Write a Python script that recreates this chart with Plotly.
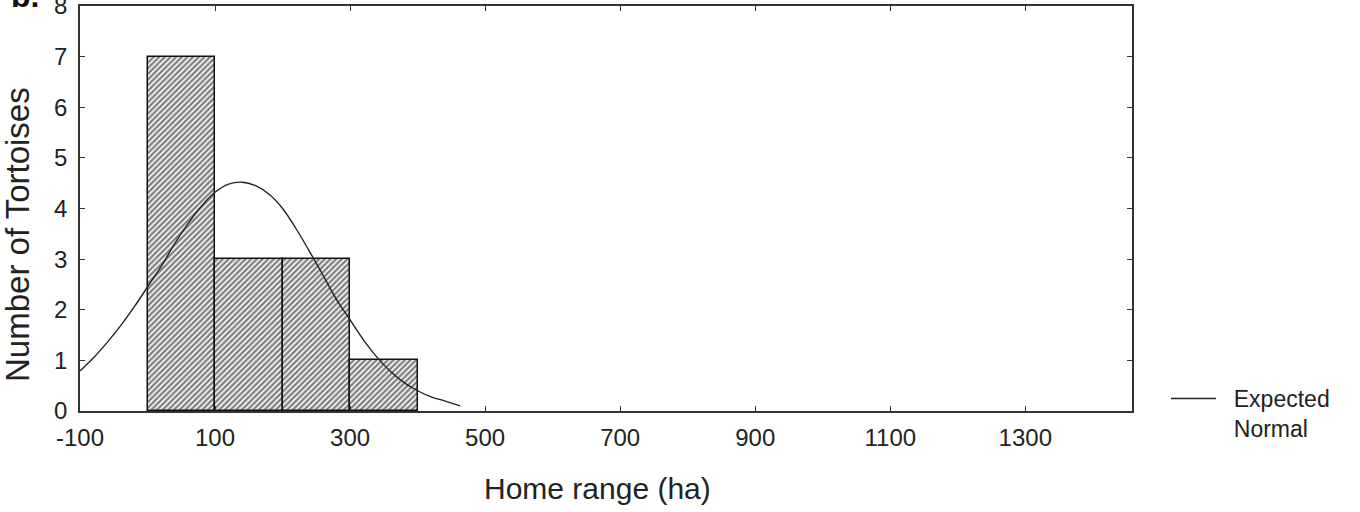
import plotly.graph_objects as go

# Histogram data (Home range, ha)
bin_centers = [50, 150, 250, 350]
bin_width = [100, 100, 100, 100]
counts = [7, 3, 3, 1]

# Expected normal curve
curve_x = [-100, -80, -60, -40, -20, 0, 20, 40, 60, 80, 100, 120, 140, 160, 180,
           200, 220, 240, 260, 280, 300, 320, 340, 360, 380, 400, 420, 440, 463]
curve_y = [0.79, 1.05, 1.35, 1.68, 2.05, 2.45, 2.85, 3.30, 3.70, 4.05, 4.32, 4.48,
           4.52, 4.45, 4.28, 4.00, 3.60, 3.15, 2.68, 2.20, 1.80, 1.40, 1.06, 0.78,
           0.56, 0.40, 0.28, 0.20, 0.10]

x_ticks = [-100, 100, 300, 500, 700, 900, 1100, 1300]
x_tick_text = ["-100", "100", "300", "500", "700", "900", "1100", "1300"]
y_ticks = [0, 1, 2, 3, 4, 5, 6, 7, 8]

FONT = "Liberation Sans, Arial, sans-serif"
NB = "\u00a0\u00a0"

fig = go.Figure()
fig.add_trace(go.Bar(
    x=bin_centers, y=counts, width=bin_width,
    marker=dict(color="white",
                line=dict(color="#111111", width=1.5),
                pattern=dict(shape="/", fgcolor="#000000", bgcolor="white",
                             size=4, solidity=0.6)),
    showlegend=False,
))
fig.add_trace(go.Scatter(
    x=curve_x, y=curve_y, mode="lines", line=dict(color="#222222", width=1.4, shape="spline"),
    name=NB + "Expected<br>" + NB + "Normal", showlegend=True,
))

L, R, T, B = 80, 228, 6, 101
W, H = 1360, 512
pw, ph = W - L - R, H - T - B

fig.update_layout(
    width=W, height=H,
    margin=dict(l=L, r=R, t=T, b=B, autoexpand=False),
    paper_bgcolor="white", plot_bgcolor="white",
    font=dict(family=FONT, size=24, color="#222222"),
    bargap=0,
    showlegend=True,
    legend=dict(x=(1166 - L) / pw, y=(411 - 377) / ph, xanchor="left", yanchor="top",
                valign="top", bgcolor="rgba(0,0,0,0)", borderwidth=0,
                font=dict(family=FONT, size=23, color="#222222"), itemwidth=45),
    xaxis=dict(range=[-100, 1458], tickmode="array", tickvals=x_ticks, ticktext=x_tick_text,
               ticks="inside", ticklen=5, tickcolor="#333333", automargin=False,
               showline=True, linecolor="#333333", linewidth=1.5, mirror="ticks",
               showgrid=False, zeroline=False, ticklabelstandoff=4),
    yaxis=dict(range=[0, 8], tickmode="array", tickvals=y_ticks,
               ticks="inside", ticklen=5, tickcolor="#333333", automargin=False,
               showline=True, linecolor="#333333", linewidth=1.5, mirror="ticks",
               showgrid=False, zeroline=False, ticklabelstandoff=6,
               ticklabeloverflow="allow"),
    annotations=[
        dict(text="Home range (ha)", xref="paper", yref="paper",
             x=(597 - L) / pw, y=(411 - 488) / ph, xanchor="center", yanchor="middle",
             showarrow=False, font=dict(family=FONT, size=30, color="#222222")),
        dict(text="Number of Tortoises", xref="paper", yref="paper",
             x=(17 - L) / pw, y=(411 - 235) / ph, xanchor="center", yanchor="middle",
             textangle=-90, showarrow=False, font=dict(family=FONT, size=33, color="#222222")),
        dict(text="<b>b.</b>", xref="paper", yref="paper",
             x=(9 - L) / pw, y=(411 - 16) / ph, xanchor="left", yanchor="bottom",
             showarrow=False, font=dict(family=FONT, size=32, color="#111111")),
    ],
)

fig.write_html("out.html")
